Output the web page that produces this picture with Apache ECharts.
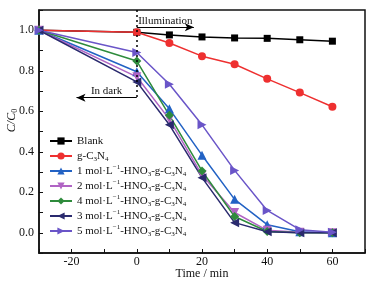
<!DOCTYPE html>
<html>
<head>
<meta charset="utf-8">
<script src="https://cdn.jsdelivr.net/npm/echarts@6/dist/echarts.min.js"></script>
<style>
  html, body { margin: 0; padding: 0; background: #fff; }
  #chart { width: 374px; height: 287px; }
</style>
</head>
<body>
<div id="chart"></div>
<script>
// time points (min)
var times = [-30, 0, 10, 20, 30, 40, 50, 60]
var blank = [1.0, 0.99, 0.977, 0.967, 0.962, 0.960, 0.953, 0.946]
var gcn = [1.0, 0.99, 0.937, 0.872, 0.832, 0.760, 0.692, 0.622]
var mol1 = [1.0, 0.795, 0.612, 0.383, 0.165, 0.040, 0.005, 0.0]
var mol2 = [1.0, 0.770, 0.560, 0.285, 0.100, 0.012, 0.002, 0.0]
var mol4 = [1.0, 0.848, 0.580, 0.305, 0.080, 0.006, 0.0, 0.0]
var mol3 = [1.0, 0.745, 0.533, 0.272, 0.050, 0.005, 0.0, 0.0]
var mol5 = [1.0, 0.890, 0.733, 0.533, 0.308, 0.110, 0.015, 0.002]
var xLabels = [-20, 0, 20, 40, 60]
var yLabels = [0, 0.2, 0.4, 0.6, 0.8, 1.0]

var font = 'Liberation Serif'
var myChart = echarts.init(document.getElementById('chart'))

function pairs(arr) {
  return times.map(function(t, i) { return [t, arr[i]] })
}

// legend names with sub/superscripts
var legendText = {
  'Blank': 'Blank',
  'g-C3N4': 'g-C{s|3}N{s|4}',
  '1M': '1 mol·L{p|−1}-HNO{s|3}-g-C{s|3}N{s|4}',
  '2M': '2 mol·L{p|−1}-HNO{s|3}-g-C{s|3}N{s|4}',
  '4M': '4 mol·L{p|−1}-HNO{s|3}-g-C{s|3}N{s|4}',
  '3M': '3 mol·L{p|−1}-HNO{s|3}-g-C{s|3}N{s|4}',
  '5M': '5 mol·L{p|−1}-HNO{s|3}-g-C{s|3}N{s|4}'
}

function mkSeries(name, data, color, symbol, rotate, size) {
  return {
    name: name,
    type: 'line',
    data: pairs(data),
    symbol: symbol,
    symbolRotate: rotate || 0,
    symbolSize: size,
    lineStyle: { color: color, width: 1.5 },
    itemStyle: { color: color },
    z: 3
  }
}

var series = [
  mkSeries('Blank', blank, '#000000', 'rect', 0, 7),
  mkSeries('g-C3N4', gcn, '#ee3030', 'circle', 0, 8),
  mkSeries('1M', mol1, '#2262c4', 'triangle', 0, 9),
  mkSeries('2M', mol2, '#b064c4', 'triangle', 180, 9),
  mkSeries('4M', mol4, '#2e8b3c', 'diamond', 0, 9),
  mkSeries('3M', mol3, '#2a2a6e', 'triangle', 90, 9),
  mkSeries('5M', mol5, '#6a55c8', 'triangle', -90, 9)
]

// annotations: dashed divider + arrows
series.push({
  type: 'line',
  data: [],
  silent: true,
  markLine: {
    silent: true,
    animation: false,
    data: [
      [{ coord: [0, 1.1], symbol: 'none', lineStyle: { type: [2, 3], color: '#000', width: 1.5 } },
       { coord: [0, 0.66], symbol: 'none' }],
      [{ coord: [0, 1.015], symbol: 'none',
         label: { show: true, position: 'insideMiddleTop', formatter: 'Illumination', distance: 1 } },
       { coord: [17.5, 1.015], symbol: 'arrow' }],
      [{ coord: [0, 0.667], symbol: 'none',
         label: { show: true, position: 'insideMiddleTop', formatter: 'In dark', distance: 1 } },
       { coord: [-18.5, 0.667], symbol: 'arrow' }]
    ],
    symbolSize: [6, 9],
    lineStyle: { type: 'solid', color: '#000', width: 1.2 },
    label: { fontFamily: font, fontSize: 11, color: '#111' }
  }
})

var option = {
  animation: false,
  textStyle: { fontFamily: font },
  grid: {
    left: 39, right: 9, top: 10, bottom: 34,
    outerBoundsMode: 'none',
    containLabel: false,
    show: true, borderColor: '#111', borderWidth: 1.5
  },
  legend: {
    orient: 'vertical',
    left: 44,
    top: 129,
    itemWidth: 22,
    itemHeight: 9,
    itemGap: 1,
    data: ['Blank', 'g-C3N4', '1M', '2M', '4M', '3M', '5M'],
    formatter: function(name) { return legendText[name] },
    textStyle: {
      fontFamily: font, fontSize: 11, color: '#111', lineHeight: 14,
      rich: {
        s: { fontSize: 7, fontFamily: font, verticalAlign: 'bottom', lineHeight: 14, color: '#111' },
        p: { fontSize: 7, fontFamily: font, verticalAlign: 'top', lineHeight: 14, color: '#111' }
      }
    }
  },
  xAxis: {
    type: 'value',
    min: -30, max: 70, interval: 10,
    name: 'Time / min',
    nameLocation: 'middle',
    nameGap: 15,
    nameMoveOverlap: false,
    nameTextStyle: { fontFamily: font, fontSize: 12, color: '#111' },
    axisLine: { onZero: false, lineStyle: { color: '#111', width: 1.5 } },
    axisTick: { inside: true, length: 4, lineStyle: { color: '#111' } },
    axisLabel: { customValues: xLabels, fontFamily: font, fontSize: 12, color: '#111', margin: 3 },
    splitLine: { show: false }
  },
  yAxis: {
    type: 'value',
    min: -0.1, max: 1.1, interval: 0.1,
    name: '{i|C/C}{s|0}',
    nameLocation: 'middle',
    nameGap: 20,
    nameMoveOverlap: false,
    nameTextStyle: {
      fontFamily: font, fontSize: 12, color: '#111',
      padding: [0, 0, 0, 22],
      rich: {
        i: { fontStyle: 'italic', fontFamily: font, fontSize: 12, lineHeight: 14, verticalAlign: 'middle' },
        s: { fontFamily: font, fontSize: 8, lineHeight: 14, verticalAlign: 'bottom' }
      }
    },
    axisLine: { onZero: false, lineStyle: { color: '#111', width: 1.5 } },
    axisTick: { inside: true, length: 4, lineStyle: { color: '#111' } },
    axisLabel: {
      customValues: yLabels, fontFamily: font, fontSize: 12, color: '#111', margin: 5,
      formatter: function(v) { return v.toFixed(1) }
    },
    splitLine: { show: false }
  },
  series: series
}

myChart.setOption(option)
window.addEventListener('resize', function() {
  myChart.resize()
})
</script>
</body>
</html>
